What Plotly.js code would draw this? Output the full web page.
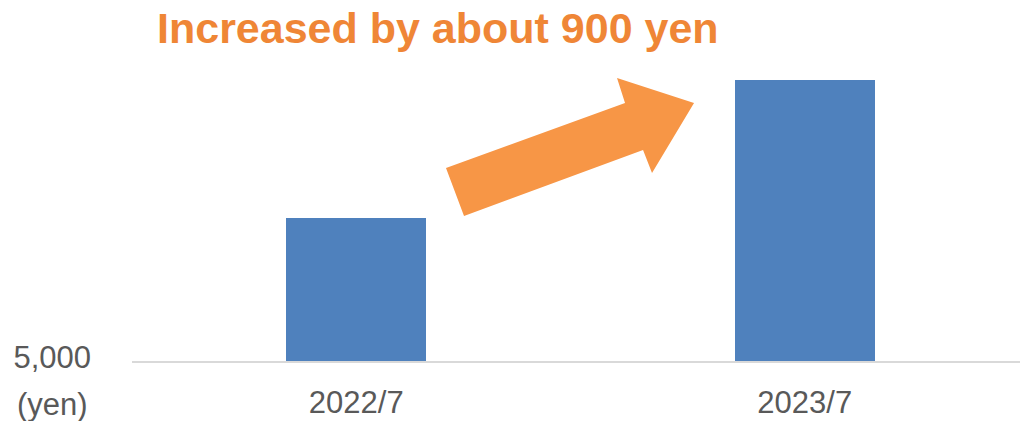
<!DOCTYPE html>
<html>
<head>
<meta charset="utf-8">
<script src="https://cdn.plot.ly/plotly-3.0.1.min.js"></script>
<style>html,body{margin:0;padding:0;background:#fff;}#chart{width:1020px;height:421px;}</style>
</head>
<body>
<div id="chart"></div>
<script>
// Data
const categories = ["2022/7", "2023/7"];
const values = [5930, 6830];
const yTickVals = [5000];
const yTickText = ["5,000"];
const titleText = "Increased by about 900 yen";
const unitText = "(yen)";

// Layout geometry (pixels)
const W = 1020, H = 421;
const M = {l: 132, r: 0, t: 54, b: 60};
const plotW = W - M.l - M.r, plotH = H - M.t - M.b;
const px2paperX = px => (px - M.l) / plotW;
const px2paperY = py => (H - M.b - py) / plotH;

// Decorative arrow outline (pixel positions)
const arrowPts = [[446,168],[625,103],[617,78],[694,103],[652,173],[643,150],[464,216]];
const arrowPath = arrowPts.map((p,i)=> (i?'L':'M') + px2paperX(p[0]).toFixed(4) + ',' + px2paperY(p[1]).toFixed(4)).join(' ') + ' Z';

const trace = {
  type: 'bar',
  x: categories,
  y: values.map(v => v - 5000),
  base: 5000,
  width: 0.312,
  marker: {color: '#4F81BD', line: {width: 0}},
  hoverinfo: 'skip'
};

const font = {family: '"Liberation Sans", Arial, sans-serif', size: 31, color: '#595959'};

const layout = {
  width: W, height: H,
  margin: M,
  paper_bgcolor: '#ffffff',
  plot_bgcolor: '#ffffff',
  showlegend: false,
  bargap: 0,
  title: {
    text: '<b>' + titleText + '</b>',
    font: {family: '"Liberation Sans", Arial, sans-serif', size: 43, color: '#EF8636'},
    x: 157 / W, xanchor: 'left', xref: 'container',
    y: 1 - 27.5 / H, yanchor: 'middle', yref: 'container'
  },
  xaxis: {
    type: 'category',
    range: [-0.5, -0.5 + plotW / 448.5],
    showgrid: false,
    zeroline: false,
    showline: true,
    linecolor: '#D9D9D9',
    linewidth: 1.5,
    ticks: '',
    tickfont: font,
    ticklabelstandoff: 13,
    fixedrange: true
  },
  yaxis: {
    range: [5000, 5000 + plotH / 0.15333],
    tickvals: yTickVals,
    ticktext: yTickText,
    showgrid: false,
    zeroline: false,
    showline: false,
    ticks: '',
    tickfont: font,
    ticklabelstandoff: 40,
    ticklabelshift: -4,
    fixedrange: true
  },
  shapes: [{
    type: 'path',
    xref: 'paper', yref: 'paper',
    path: arrowPath,
    fillcolor: '#F79646',
    line: {width: 0},
    layer: 'above'
  }],
  annotations: [{
    text: unitText,
    xref: 'paper', yref: 'paper',
    x: px2paperX(52.5), y: px2paperY(404),
    xanchor: 'center', yanchor: 'middle',
    showarrow: false,
    font: font
  }]
};

Plotly.newPlot('chart', [trace], layout, {displayModeBar: false, staticPlot: true});
</script>
</body>
</html>
